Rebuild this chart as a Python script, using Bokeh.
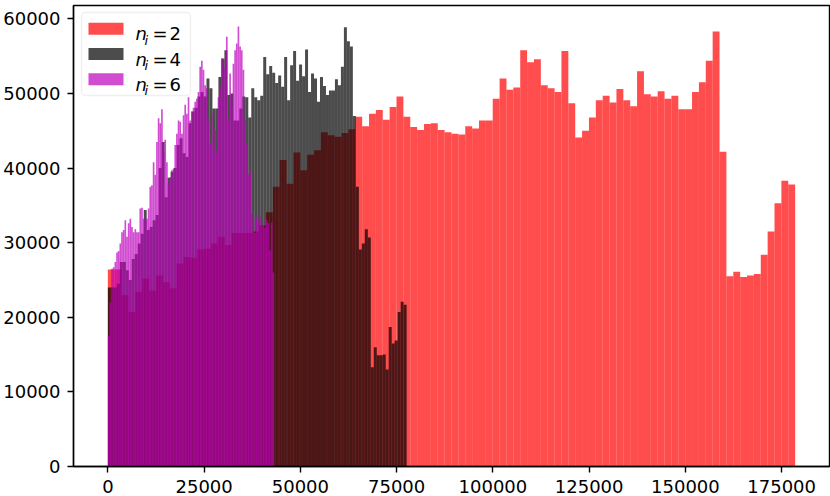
import numpy as np
from bokeh.plotting import figure
from bokeh.models import Range1d, BasicTickFormatter, FixedTicker, BoxAnnotation, Label
from bokeh.embed import file_html
from bokeh.resources import INLINE

# ---- data (histogram counts, 100 bins each) ----
series_labels = ["2", "4", "6"]

red_range = (0, 178500)      # n_i = 2
red_counts = [
    26400, 26400, 23000, 20700, 23400, 25200, 23600, 25600, 24700, 23900,
    27200, 28100, 28000, 29100, 29200, 29900, 30800, 29700, 31300, 31300,
    31300, 31500, 32300, 34100, 37500, 41100, 37900, 42100, 39700, 41800,
    42400, 44800, 44400, 44200, 44700, 45200, 46900, 45600, 47300, 47800,
    46500, 48200, 49600, 46900, 45500, 45100, 45900, 46000, 45100, 44800,
    44600, 44500, 45600, 45300, 46400, 46400, 49300, 52000, 50500, 50800,
    55800, 54200, 54600, 51100, 50700, 50200, 55700, 48700, 44100, 45000,
    46800, 49100, 49700, 48800, 50600, 49100, 48300, 53000, 49900, 49600,
    50300, 49300, 49700, 47900, 47900, 50200, 51500, 54400, 58300, 42200,
    25500, 26100, 25400, 25600, 25800, 28400, 31500, 35300, 38300, 37800,
]

black_range = (0, 77600)     # n_i = 4
black_counts = [
    24000, 24000, 24000, 24500, 27400, 27400, 26300, 25000, 27800, 28500,
    29900, 31200, 34400, 31700, 32100, 33000, 33700, 40000, 43500, 36100,
    38700, 39500, 40000, 43100, 44000, 42000, 41500, 46000, 47600, 48100,
    49600, 50200, 49600, 52000, 50700, 48000, 48000, 52200, 54700, 55800,
    49800, 50000, 46400, 46400, 48000, 49600, 49500, 46800, 50700, 49500,
    49100, 49700, 54900, 52600, 53700, 52800, 51400, 52400, 50900, 54900,
    49100, 53800, 55700, 51700, 53900, 52300, 55900, 50200, 52700, 52000,
    48900, 52200, 51000, 49800, 50400, 50400, 51900, 51100, 53600, 58900,
    57000, 56300, 47000, 37500, 29100, 29900, 31800, 30700, 13300, 16000,
    14900, 14900, 15000, 13000, 18700, 16500, 16900, 20700, 22100, 21700,
]

magenta_range = (0, 43200)   # n_i = 6
magenta_counts = [
    17500, 22000, 26500, 26700, 27400, 28700, 28900, 29900, 31400, 31700,
    33000, 30800, 32600, 33200, 32100, 31400, 31800, 31400, 31400, 34600,
    34700, 33200, 33200, 33200, 34600, 37500, 37700, 40800, 39100, 43500,
    46700, 46000, 47900, 42200, 43800, 40800, 37900, 38800, 39700, 39900,
    43100, 44600, 46400, 46200, 44600, 47100, 48500, 47300, 49500, 46400,
    47600, 48100, 48900, 49300, 50200, 53600, 54400, 53200, 51100, 50700,
    46400, 43300, 47300, 42900, 45100, 42200, 49500, 50900, 54700, 54300,
    53400, 57600, 46400, 52700, 48700, 54000, 55800, 56700, 59000, 56300,
    55800, 53200, 46400, 43300, 39100, 39700, 33900, 33000, 31300, 33500,
    32800, 33500, 32300, 32300, 32000, 33000, 32600, 29000, 32700, 26000,
]

x_ticks = [0, 25000, 50000, 75000, 100000, 125000, 150000, 175000]
y_ticks = [0, 10000, 20000, 30000, 40000, 50000, 60000]

colors = ["#ff0000", "#000000", "#bf00bf"]
ALPHA = 0.7
FONT = "DejaVu Sans"

p = figure(width=830, height=496, output_backend="svg", toolbar_location=None,
           x_range=Range1d(-8925, 187425), y_range=Range1d(0, 61800),
           min_border_left=71, min_border_right=1, min_border_top=5,
           min_border_bottom=30)
p.background_fill_color = "white"
p.border_fill_color = "white"
p.xgrid.visible = False
p.ygrid.visible = False
p.outline_line_color = "black"
p.outline_line_width = 1.4
p.outline_line_alpha = 1.0

for ax, ticks in ((p.xaxis[0], x_ticks), (p.yaxis[0], y_ticks)):
    ax.ticker = FixedTicker(ticks=ticks)
    ax.formatter = BasicTickFormatter(use_scientific=False)
    ax.major_label_text_font = FONT
    ax.major_label_text_font_size = "18px"
    ax.major_label_text_color = "black"
    ax.major_tick_in = 0
    ax.major_tick_out = 6
    ax.major_tick_line_width = 1.4
    ax.major_tick_line_color = "black"
    ax.minor_tick_line_color = None
    ax.axis_line_width = 1.4
    ax.axis_line_color = "black"
p.xaxis.major_label_standoff = 7
p.yaxis.major_label_standoff = 7

for rng, counts, col in ((red_range, red_counts, colors[0]),
                         (black_range, black_counts, colors[1]),
                         (magenta_range, magenta_counts, colors[2])):
    edges = np.linspace(rng[0], rng[1], len(counts) + 1)
    p.quad(left=edges[:-1], right=edges[1:], bottom=0, top=counts,
           fill_color=col, fill_alpha=ALPHA, line_color=None)

# ---- legend (screen units, relative to the frame's bottom-left corner) ----
p.add_layout(BoxAnnotation(left=8, right=117, top=454, bottom=371,
                           left_units="screen", right_units="screen",
                           top_units="screen", bottom_units="screen",
                           fill_color="white", fill_alpha=0.8,
                           line_color="#cccccc", line_width=1.4,
                           border_radius=4, level="overlay"))
row_top = [443.7, 418.5, 393.3]
for i, (lab, col) in enumerate(zip(series_labels, colors)):
    t = row_top[i]
    p.add_layout(BoxAnnotation(left=15, right=50, top=t, bottom=t - 12,
                               left_units="screen", right_units="screen",
                               top_units="screen", bottom_units="screen",
                               fill_color=col, fill_alpha=ALPHA, line_color=None,
                               level="overlay"))
    base = t - 11
    p.add_layout(Label(x=62, y=base, x_units="screen", y_units="screen", text="n",
                       text_font=FONT, text_font_style="italic", text_font_size="18px",
                       text_baseline="alphabetic", text_color="black", level="overlay"))
    p.add_layout(Label(x=71, y=base - 6.5, x_units="screen", y_units="screen", text="i",
                       text_font=FONT, text_font_style="italic", text_font_size="13px",
                       text_baseline="alphabetic", text_color="black", level="overlay"))
    p.add_layout(Label(x=79, y=base, x_units="screen", y_units="screen", text="=",
                       text_font=FONT, text_font_size="18px",
                       text_baseline="alphabetic", text_color="black", level="overlay"))
    p.add_layout(Label(x=96, y=base, x_units="screen", y_units="screen", text=lab,
                       text_font=FONT, text_font_size="18px",
                       text_baseline="alphabetic", text_color="black", level="overlay"))

open("out.html", "w").write(file_html(p, INLINE))
